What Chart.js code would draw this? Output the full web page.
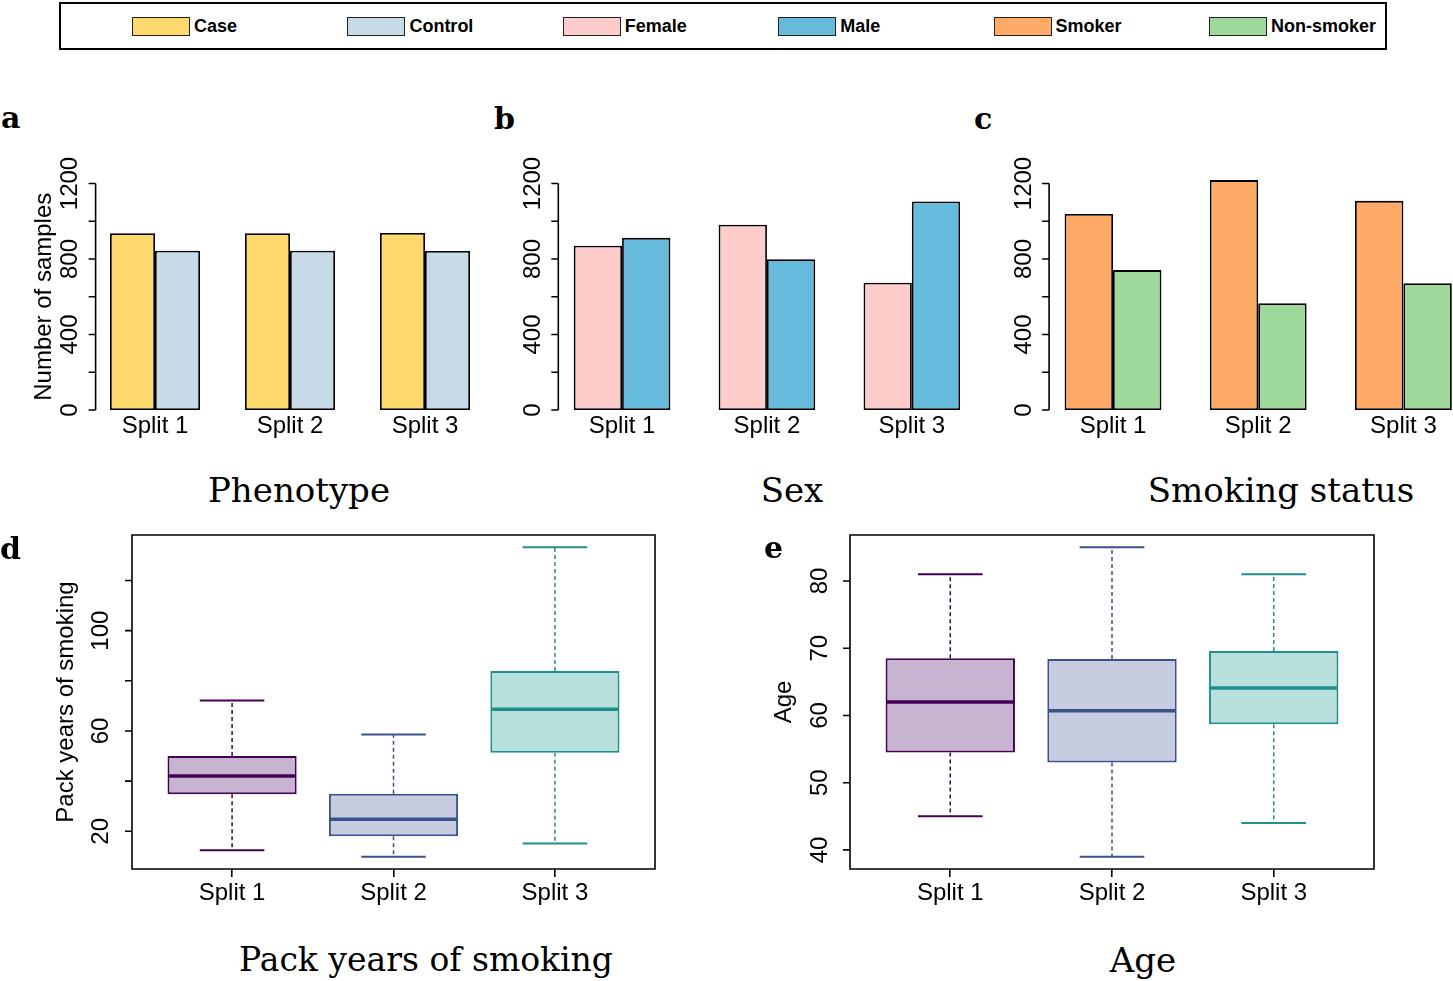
<!DOCTYPE html>
<html>
<head>
<meta charset="utf-8">
<script src="https://cdn.jsdelivr.net/npm/chart.js@4.4.1/dist/chart.umd.min.js"></script>
<style>
body { margin: 0; width: 1453px; height: 981px; overflow: hidden; background: #fff; position: relative; }
canvas { position: absolute; }
.title { position: absolute; width: 400px; text-align: center; white-space: nowrap;
         font-family: "DejaVu Serif", serif; font-size: 34px; line-height: 34px; color: #000; }
.tag { position: absolute; font-family: "DejaVu Serif", serif; font-weight: bold;
       font-size: 30px; line-height: 30px; color: #000; }
#legend { position: absolute; left: 59px; top: 2px; width: 1328px; height: 48px;
          box-sizing: border-box; border: 2px solid #000; }
.sw { position: absolute; top: 13px; width: 58px; height: 19px; box-sizing: border-box; border: 1.5px solid #222; }
.lt { position: absolute; top: 13px; font-family: "Liberation Sans", Arial, sans-serif; font-weight: bold;
      font-size: 18px; line-height: 18px; color: #000; white-space: nowrap; }
</style>
</head>
<body>

<div id="legend"></div>

<canvas id="pa" width="490" height="310" style="left:0px;top:140px"></canvas>
<canvas id="pb" width="490" height="310" style="left:490px;top:140px"></canvas>
<canvas id="pc" width="500" height="310" style="left:980px;top:140px"></canvas>
<canvas id="pd" width="670" height="400" style="left:0px;top:520px"></canvas>
<canvas id="pe" width="650" height="400" style="left:740px;top:520px"></canvas>

<div class="tag" style="left:1px;top:103px">a</div>
<div class="tag" style="left:494px;top:104px">b</div>
<div class="tag" style="left:974px;top:104px">c</div>
<div class="tag" style="left:0px;top:534px">d</div>
<div class="tag" style="left:764px;top:533px">e</div>

<div class="title" style="left:99px;top:473px">Phenotype</div>
<div class="title" style="left:592px;top:473px">Sex</div>
<div class="title" style="left:1081px;top:473px">Smoking status</div>
<div class="title" style="left:226px;top:943px;font-size:33px">Pack years of smoking</div>
<div class="title" style="left:943px;top:943px">Age</div>

<script>
// categories
var splits = ['Split 1', 'Split 2', 'Split 3'];

// bar panels: number of samples per split
var caseN      = [936, 936, 938];
var controlN   = [844, 844, 842];
var femaleN    = [870, 981, 674];
var maleN      = [912, 799, 1105];
var smokerN    = [1038, 1218, 1108];
var nonSmokerN = [741, 565, 672];

// box plots: pack years of smoking
var packLow    = [12.4, 9.9, 15.1];
var packQ1     = [34.8, 18.0, 51.3];
var packMedian = [42.0, 24.8, 68.7];
var packQ3     = [50.0, 35.0, 83.9];
var packHigh   = [72.1, 58.6, 133.2];

// box plots: age
var ageLow    = [45.0, 39.0, 44.0];
var ageQ1     = [54.5, 53.0, 58.7];
var ageMedian = [62.0, 60.7, 64.1];
var ageQ3     = [68.5, 68.4, 69.6];
var ageHigh   = [81.0, 85.0, 81.0];

// tick labels
var countTicks  = [0, 200, 400, 600, 800, 1000, 1200];
var countLabels = [0, 400, 800, 1200];
var packTicks   = [20, 40, 60, 80, 100, 120];
var packLabels  = [20, 60, 100];
var ageTicks    = [40, 50, 60, 70, 80];
var ageLabels   = [40, 50, 60, 70, 80];

// legend
var legendNames  = ['Case', 'Control', 'Female', 'Male', 'Smoker', 'Non-smoker'];
var legendColors = ['#FFD96E', '#C6DAE7', '#FFCCCC', '#66BADC', '#FFAA66', '#9ED89B'];

var boxFill = ['#C7B4D1', '#C8CCE0', '#B8E0DC'];
var boxLine = ['#440154', '#3B528B', '#21908C'];

var sansFont = '"Liberation Sans", Arial, sans-serif';

var legend = document.getElementById('legend');
legendNames.forEach(function (name, i) {
    var x = 71 + i * 215.4;
    var sw = document.createElement('div');
    sw.className = 'sw';
    sw.style.left = x + 'px';
    sw.style.background = legendColors[i];
    legend.appendChild(sw);
    var t = document.createElement('div');
    t.className = 'lt';
    t.style.left = (x + 62) + 'px';
    t.textContent = name;
    legend.appendChild(t);
});

// R style y axis: rotated labels, outward ticks, optional frame
var rAxes = {
    id: 'rAxes',
    afterDraw: function (chart, args, o) {
        if (!o || !o.ticks) return;
        var ctx = chart.ctx, a = chart.chartArea, ys = chart.scales.y;
        ctx.save();
        ctx.strokeStyle = '#000';
        ctx.lineWidth = 1.6;
        ctx.beginPath();
        if (o.box) {
            ctx.rect(a.left, a.top, a.right - a.left, a.bottom - a.top);
        } else {
            ctx.moveTo(a.left, ys.getPixelForValue(o.ticks[0]));
            ctx.lineTo(a.left, ys.getPixelForValue(o.ticks[o.ticks.length - 1]));
        }
        o.ticks.forEach(function (v) {
            var y = ys.getPixelForValue(v);
            ctx.moveTo(a.left, y);
            ctx.lineTo(a.left - 7, y);
        });
        ctx.stroke();

        ctx.fillStyle = '#000';
        ctx.font = '24px ' + sansFont;
        ctx.textAlign = 'center';
        ctx.textBaseline = 'middle';
        o.labels.forEach(function (v) {
            ctx.save();
            ctx.translate(a.left - o.labelOffset, ys.getPixelForValue(v));
            ctx.rotate(-Math.PI / 2);
            ctx.fillText(String(v), 0, 0);
            ctx.restore();
        });
        if (o.title) {
            var ty = o.titleAt != null ? ys.getPixelForValue(o.titleAt) : (a.top + a.bottom) / 2;
            ctx.translate(a.left - o.titleOffset, ty);
            ctx.rotate(-Math.PI / 2);
            ctx.fillText(o.title, 0, 0);
        }
        ctx.restore();
    }
};

// whiskers, caps and medians on top of the floating-bar boxes
var boxWhiskers = {
    id: 'boxWhiskers',
    afterDatasetsDraw: function (chart, args, o) {
        if (!o || !o.low) return;
        var ctx = chart.ctx, ys = chart.scales.y;
        var bars = chart.getDatasetMeta(0).data;
        ctx.save();
        bars.forEach(function (bar, i) {
            var x = bar.x, w = bar.width;
            var yLow = ys.getPixelForValue(o.low[i]);
            var yQ1 = ys.getPixelForValue(o.q1[i]);
            var yQ3 = ys.getPixelForValue(o.q3[i]);
            var yHigh = ys.getPixelForValue(o.high[i]);
            var yMed = ys.getPixelForValue(o.median[i]);
            ctx.strokeStyle = o.colors[i];

            ctx.lineWidth = 1.5;
            ctx.setLineDash([4, 3]);
            ctx.beginPath();
            ctx.moveTo(x, yQ3); ctx.lineTo(x, yHigh);
            ctx.moveTo(x, yQ1); ctx.lineTo(x, yLow);
            ctx.stroke();

            ctx.setLineDash([]);
            ctx.lineWidth = 2;
            ctx.beginPath();
            ctx.moveTo(x - w / 4, yHigh); ctx.lineTo(x + w / 4, yHigh);
            ctx.moveTo(x - w / 4, yLow); ctx.lineTo(x + w / 4, yLow);
            ctx.stroke();

            ctx.lineWidth = 3.5;
            ctx.beginPath();
            ctx.moveTo(x - w / 2 + 1, yMed); ctx.lineTo(x + w / 2 - 1, yMed);
            ctx.stroke();
        });
        ctx.restore();
    }
};

Chart.register(rAxes, boxWhiskers);

function tickFont() {
    return { family: sansFont, size: 24 };
}

// grouped bars placed like R barplot(beside = TRUE): groups at 2, 5, 8
function barPanel(id, series, colors, layout, yTitle) {
    var groupAt = splits.map(function (s, i) { return 2 + 3 * i; });
    var lo = 1, hi = 3 * splits.length, pad = (hi - lo) * 0.04;
    return new Chart(document.getElementById(id), {
        type: 'bar',
        data: {
            datasets: series.map(function (vals, k) {
                return {
                    data: vals.map(function (v, i) { return { x: groupAt[i], y: v }; }),
                    backgroundColor: colors[k],
                    borderColor: '#000',
                    borderWidth: 1.8,
                    borderSkipped: false,
                    categoryPercentage: 2 / 3,
                    barPercentage: 1
                };
            })
        },
        options: {
            responsive: false,
            animation: false,
            layout: { padding: { top: layout.top, right: layout.right, left: 0, bottom: 0 } },
            plugins: {
                legend: { display: false },
                tooltip: { enabled: false },
                rAxes: {
                    ticks: countTicks, labels: countLabels, labelOffset: 25,
                    title: yTitle, titleOffset: 51, titleAt: 600
                }
            },
            scales: {
                x: {
                    type: 'linear', min: lo - pad, max: hi + pad, offset: false,
                    afterBuildTicks: function (s) { s.ticks = groupAt.map(function (v) { return { value: v }; }); },
                    afterFit: function (s) { s.height = 40; },
                    grid: { display: false },
                    border: { display: false },
                    ticks: {
                        autoSkip: false, maxRotation: 0, minRotation: 0, padding: -6,
                        color: '#000', font: tickFont(),
                        callback: function (v, i) { return splits[i]; }
                    }
                },
                y: {
                    min: 0, max: 1300,
                    afterFit: function (s) { s.width = layout.yw; },
                    grid: { display: false },
                    border: { display: false },
                    ticks: { display: false }
                }
            }
        }
    });
}

function boxPanel(id, low, q1, median, q3, high, ticks, labels, layout, yTitle) {
    var dmin = Math.min.apply(null, low), dmax = Math.max.apply(null, high);
    var ypad = (dmax - dmin) * 0.04;
    var xpad = (splits.length) * 0.04;
    return new Chart(document.getElementById(id), {
        type: 'bar',
        data: {
            datasets: [{
                data: splits.map(function (s, i) { return { x: i + 1, y: [q1[i], q3[i]] }; }),
                backgroundColor: boxFill,
                borderColor: boxLine,
                borderWidth: 2,
                borderSkipped: false,
                categoryPercentage: 0.8,
                barPercentage: 1
            }]
        },
        options: {
            responsive: false,
            animation: false,
            layout: { padding: { top: layout.top, right: layout.right, left: 0, bottom: 0 } },
            plugins: {
                legend: { display: false },
                tooltip: { enabled: false },
                rAxes: {
                    box: true, ticks: ticks, labels: labels, labelOffset: layout.labelOffset,
                    title: yTitle, titleOffset: 66
                },
                boxWhiskers: { low: low, q1: q1, median: median, q3: q3, high: high, colors: boxLine }
            },
            scales: {
                x: {
                    type: 'linear', min: 0.5 - xpad, max: splits.length + 0.5 + xpad, offset: false,
                    afterBuildTicks: function (s) { s.ticks = splits.map(function (n, i) { return { value: i + 1 }; }); },
                    afterFit: function (s) { s.height = 51; },
                    grid: { display: true, drawOnChartArea: false, drawTicks: true, tickLength: 8,
                            offset: false, color: '#000', lineWidth: 1.6 },
                    border: { display: false },
                    ticks: {
                        autoSkip: false, maxRotation: 0, minRotation: 0, padding: 2,
                        color: '#000', font: tickFont(),
                        callback: function (v, i) { return splits[i]; }
                    }
                },
                y: {
                    min: dmin - ypad, max: dmax + ypad, beginAtZero: false,
                    afterFit: function (s) { s.width = layout.yw; },
                    grid: { display: false },
                    border: { display: false },
                    ticks: { display: false }
                }
            }
        }
    });
}

barPanel('pa', [caseN, controlN], [legendColors[0], legendColors[1]],
         { top: 24.6, right: 5.6, yw: 95.6 }, 'Number of samples');
barPanel('pb', [femaleN, maleN], [legendColors[2], legendColors[3]],
         { top: 24.6, right: 4.4, yw: 68.3 }, null);
barPanel('pc', [smokerN, nonSmokerN], [legendColors[4], legendColors[5]],
         { top: 24.6, right: 12.7, yw: 69.1 }, null);

boxPanel('pd', packLow, packQ1, packMedian, packQ3, packHigh, packTicks, packLabels,
         { top: 15, right: 15, yw: 132, labelOffset: 31 }, 'Pack years of smoking');
boxPanel('pe', ageLow, ageQ1, ageMedian, ageQ3, ageHigh, ageTicks, ageLabels,
         { top: 15, right: 16, yw: 110, labelOffset: 30 }, 'Age');
</script>
</body>
</html>
